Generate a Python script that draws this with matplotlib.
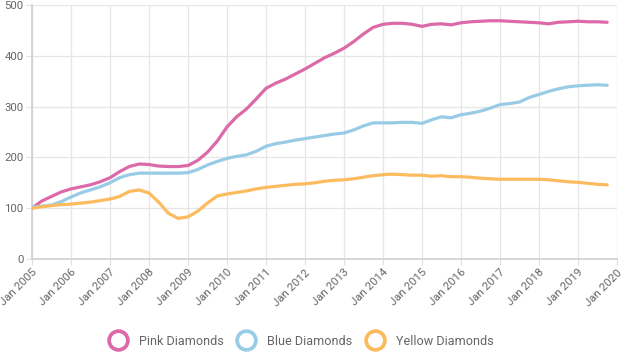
import numpy as np
import pandas as pd
import matplotlib
matplotlib.use("Agg")
import matplotlib.pyplot as plt
from matplotlib.lines import Line2D

plt.rcParams["font.family"] = ["Roboto", "DejaVu Sans"]

# quarterly index values, Q1 2005 .. Q4 2019
dates = pd.date_range("2005-01-01", "2019-10-01", freq="QS")
pink = [100, 114, 123, 132, 138, 142, 146, 152, 160, 172, 182, 187,
        186, 183, 182, 182, 184, 194, 210, 232, 260, 280, 295, 315,
        336, 346, 354, 364, 374, 385, 396, 405, 415, 428, 443, 456,
        462, 464, 464, 462, 458, 462, 463, 461, 465, 467, 468, 469,
        469, 468, 467, 466, 465, 463, 466, 467, 468, 467, 467, 466]
blue = [102, 104, 106, 113, 122, 130, 136, 142, 150, 160, 166, 169,
        169, 169, 169, 169, 170, 176, 185, 192, 198, 202, 205, 212,
        222, 227, 230, 234, 237, 240, 243, 246, 248, 254, 262, 268,
        268, 268, 269, 269, 267, 274, 280, 278, 284, 287, 291, 297,
        304, 306, 309, 318, 324, 330, 335, 339, 341, 342, 343, 342]
yellow = [100, 103, 105, 107, 108, 110, 112, 115, 118, 123, 133, 136,
          130, 112, 90, 80, 83, 94, 110, 124, 128, 131, 134, 138,
          141, 143, 145, 147, 148, 150, 153, 155, 156, 158, 161, 164,
          166, 167, 166, 165, 165, 163, 164, 162, 162, 161, 159, 158,
          157, 157, 157, 157, 157, 156, 154, 152, 151, 149, 147, 146]
series = [("Pink Diamonds", pink, "#dc6aa8"),
          ("Blue Diamonds", blue, "#98cce6"),
          ("Yellow Diamonds", yellow, "#fbbb5e")]
years = list(range(2005, 2021))

fig = plt.figure(figsize=(6.24, 3.58), dpi=100)
ax = fig.add_axes([0.0513, 0.2765, 0.9375, 0.7095])

for name, vals, col in series:
    ax.plot(dates, vals, color=col, lw=2.3, solid_capstyle="round",
            solid_joinstyle="round", zorder=3)

ax.set_xlim(pd.Timestamp("2005-01-01"), pd.Timestamp("2020-01-01"))
ax.set_ylim(0, 500)
ax.set_yticks(range(0, 501, 100))
ticks = [pd.Timestamp(f"{y}-01-01") for y in years]
ax.set_xticks(ticks)
ax.set_xticklabels([f"Jan {y}" for y in years], rotation=45, ha="right",
                   rotation_mode="anchor")
ax.grid(color="#e6e6e6", lw=0.9, zorder=0)
for s in ["top", "right"]:
    ax.spines[s].set_visible(False)
for s in ["left", "bottom"]:
    ax.spines[s].set_color("#cfcfcf")
    ax.spines[s].set_linewidth(1.2)
ax.tick_params(length=4, color="#e0e0e0", labelsize=8.2, labelcolor="#666666", pad=2)

handles = [Line2D([], [], ls="none", marker="o", ms=13.5, mfc="white", mec=col, mew=2.7)
           for _, _, col in series]
fig.legend(handles, [n for n, _, _ in series], loc="center", bbox_to_anchor=(0.484, 0.047),
           ncol=3, frameon=False, fontsize=9.1, labelcolor="#666666",
           handletextpad=1.05, columnspacing=1.2, handlelength=1.2)

fig.savefig("out.png", dpi=100, facecolor="white")
